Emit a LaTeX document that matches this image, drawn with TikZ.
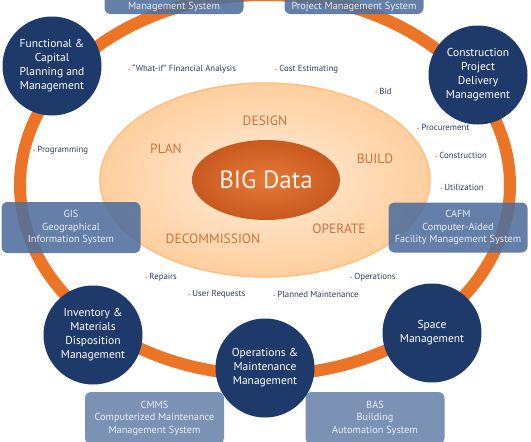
\documentclass[tikz,border=0pt]{standalone}
\usepackage{fontspec}
\setmainfont{PT Sans}
\usetikzlibrary{shapes.geometric}

\definecolor{ringorange}{HTML}{EC7426}
\definecolor{navy}{HTML}{1D3A6B}
\definecolor{boxblue}{HTML}{4F6F9C}
\definecolor{boxlight}{HTML}{6B84AB}
\definecolor{boxtext}{HTML}{E8EDF5}
\definecolor{phasecol}{HTML}{C9723E}
\definecolor{itemcol}{HTML}{2F3D5A}

\newcommand\bul{{\color{ringorange}\fontsize{5}{5}\selectfont\textbullet}\hspace{2pt}}

\begin{document}
\begin{tikzpicture}[x=1pt,y=-1pt,
    hub/.style={circle,fill=navy,text=white,align=center,minimum size=99pt,inner sep=0pt,
                font=\fontsize{11.5}{14}\selectfont},
    sysbox/.style={rounded corners=6pt,fill=boxblue,fill opacity=.88,text opacity=1,text=boxtext,
                   align=center,minimum width=139pt,font=\fontsize{10.3}{12.5}\selectfont},
    topbox/.style={sysbox,minimum height=28pt,text height=19pt,text depth=1pt},
    phase/.style={text=phasecol,font=\fontsize{13.5}{13.5}\selectfont},
    item/.style={anchor=west,text=itemcol,inner sep=0pt,font=\fontsize{8.8}{10}\selectfont}]

  \clip (0,0) rectangle (531,442);
  \fill[white] (0,0) rectangle (531,442);

  % outer ring
  \draw[ringorange,line width=12pt] (265,185) ellipse [x radius=245, y radius=190];

  % life cycle and core
  \node[ellipse,draw=orange!50,line width=1.5pt,inner color=orange!14,outer color=orange!38,
        minimum width=330pt,minimum height=194pt] (cycle) at (265,180) {};
  \node[ellipse,inner color={rgb,255:red,230;green,120;blue,55},outer color={rgb,255:red,200;green,90;blue,32},
        minimum width=148pt,minimum height=80pt,text={rgb,255:red,255;green,244;blue,234},
        font=\fontsize{25}{25}\selectfont] (core) at (266,180) {BIG Data};

  \node[phase] (design) at (265,121) {DESIGN};
  \node[phase] (plan) at (166,149) {PLAN};
  \node[phase] (build) at (375,159) {BUILD};
  \node[phase] (operate) at (339,229) {OPERATE};
  \node[phase] (decom) at (213,239) {DECOMMISSION};

  % systems
  \node[topbox] (topl) at (174,0) {Management System};
  \node[topbox] (topr) at (354,0) {Project Management System};
  \node[sysbox,minimum height=51pt] (gis) at (71,227.5) {GIS\\Geographical\\Information System};
  \node[sysbox,minimum height=50pt] (cafm) at (458,227.5) {CAFM\\Computer-Aided\\Facility Management System};
  \node[sysbox,fill=boxlight,minimum height=52pt] (cmms) at (154.5,418) {CMMS\\Computerized Maintenance\\Management System};
  \node[sysbox,fill=boxlight,minimum height=52pt] (bas) at (375,418) {BAS\\Building\\Automation System};

  % management areas
  \node[hub] (fcpm) at (52,66) {Functional \&\\Capital\\Planning and\\Management};
  \node[hub] (cpdm) at (478,75) {Construction\\Project\\Delivery\\Management};
  \node[hub] (imdm) at (93,335) {Inventory \&\\Materials\\Disposition\\Management};
  \node[hub] (omm) at (265,368) {Operations \&\\Maintenance\\Management};
  \node[hub] (spm) at (432,333) {Space\\Management};

  % activities
  \node[item] (whatif) at (128,69) {\bul“What-if” Financial Analysis};
  \node[item] (cost) at (275,69) {\bul Cost Estimating};
  \node[item] (bid) at (375,91) {\bul Bid};
  \node[item] (proc) at (417,127) {\bul Procurement};
  \node[item] (constr) at (435,155) {\bul Construction};
  \node[item] (util) at (440,187) {\bul Utilization};
  \node[item] (prog) at (33,150) {\bul Programming};
  \node[item] (repairs) at (145,277) {\bul Repairs};
  \node[item] (userreq) at (188,294) {\bul User Requests};
  \node[item] (ops) at (350,277) {\bul Operations};
  \node[item] (planned) at (273,294) {\bul Planned Maintenance};
\end{tikzpicture}
\end{document}
